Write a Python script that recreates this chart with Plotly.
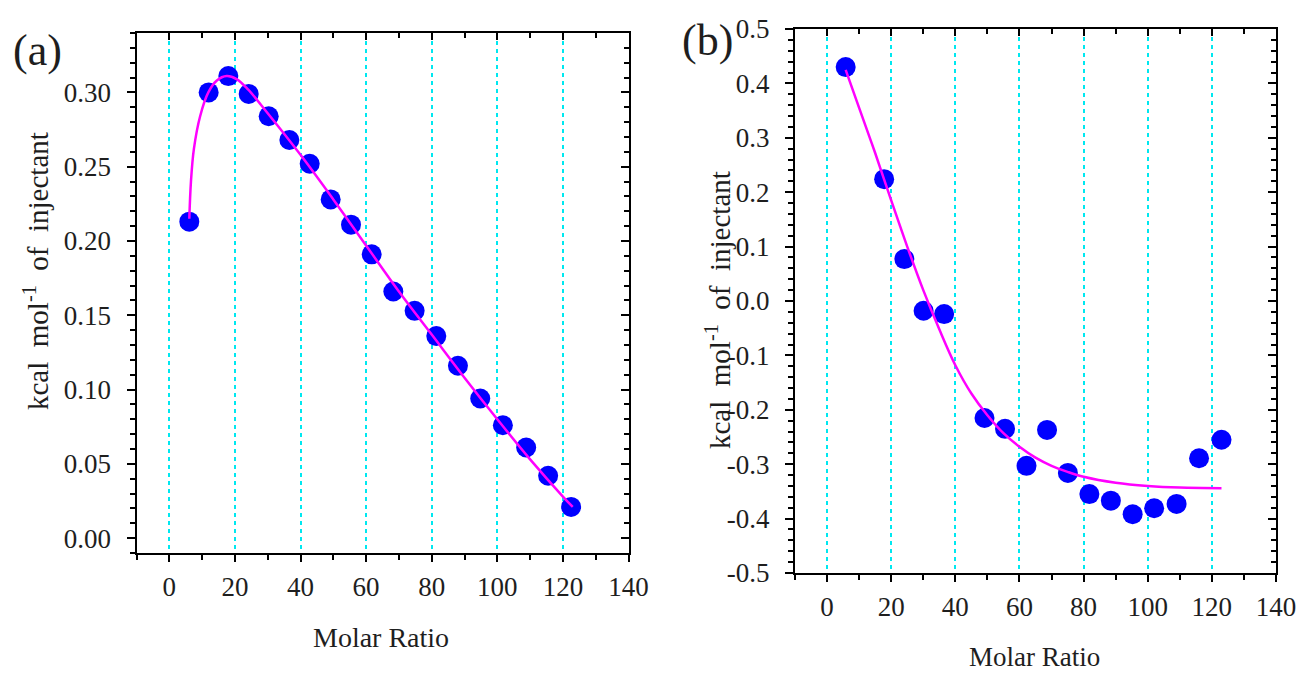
import plotly.graph_objects as go

# ---------------- data ----------------
# panel (a)
xa = [6.1, 12.0, 18.0, 24.2, 30.3, 36.6, 42.8, 49.2, 55.4, 61.7, 68.3, 74.8,
      81.4, 88.0, 94.8, 101.7, 108.8, 115.5, 122.5]
ya = [0.213, 0.300, 0.311, 0.299, 0.284, 0.268, 0.252, 0.228, 0.211, 0.191,
      0.166, 0.153, 0.136, 0.116, 0.094, 0.076, 0.061, 0.042, 0.021]
fit_xa = [6.1, 6.6, 7.5, 9.4, 11.9, 14.5, 17.5, 20.5, 24, 30, 40, 50, 60, 70,
          80, 90, 100, 110, 120, 123]
fit_ya = [0.215, 0.240, 0.262, 0.284, 0.300, 0.308, 0.311, 0.309, 0.302, 0.286,
          0.258, 0.228, 0.197, 0.166, 0.137, 0.108, 0.080, 0.053, 0.028, 0.021]

# panel (b)
xb = [5.8, 17.8, 24.1, 30.1, 36.5, 49.1, 55.5, 62.2, 68.6, 75.1, 81.8, 88.5,
      95.3, 102.0, 109.0, 116.0, 123.0]
yb = [0.430, 0.224, 0.077, -0.018, -0.024, -0.215, -0.235, -0.303, -0.237,
      -0.316, -0.355, -0.367, -0.392, -0.381, -0.373, -0.289, -0.255]
fit_xb = [5.8, 10, 15, 20, 25, 30, 35, 40, 45, 50, 55, 60, 65, 70, 75, 80, 90,
          100, 110, 123]
fit_yb = [0.425, 0.355, 0.272, 0.185, 0.100, 0.020, -0.052, -0.118, -0.170,
          -0.210, -0.243, -0.268, -0.288, -0.303, -0.314, -0.323, -0.334,
          -0.340, -0.343, -0.344]

# tick labels
x_ticks = [0, 20, 40, 60, 80, 100, 120, 140]
x_ticktext = ["0", "20", "40", "60", "80", "100", "120", "140"]
ya_ticks = [0.00, 0.05, 0.10, 0.15, 0.20, 0.25, 0.30]
ya_ticktext = ["0.00", "0.05", "0.10", "0.15", "0.20", "0.25", "0.30"]
yb_ticks = [0.5, 0.4, 0.3, 0.2, 0.1, 0.0, -0.1, -0.2, -0.3, -0.4, -0.5]
yb_ticktext = ["0.5", "0.4", "0.3", "0.2", "0.1", "0.0", "-0.1", "-0.2",
               "-0.3", "-0.4", "-0.5"]

panel_labels = ["(a)", "(b)"]
x_title = "Molar Ratio"
y_title = "kcal  mol<sup>-1</sup>  of  injectant"

# ---------------- styling ----------------
W, H = 1299, 673
FONT = "Liberation Serif, Times New Roman, serif"
BLUE = "#0000FF"
MAGENTA = "#FF00FF"
CYAN = "#00E8F0"
TXT = "#1e1e1e"


def px_x(p):
    return p / W


def px_y(p):
    return 1 - p / H


fig = go.Figure()

# panel a
fig.add_trace(go.Scatter(x=xa, y=ya, mode="markers", xaxis="x", yaxis="y",
                         marker=dict(color=BLUE, size=20, symbol="circle"),
                         showlegend=False))
fig.add_trace(go.Scatter(x=fit_xa, y=fit_ya, mode="lines", xaxis="x", yaxis="y",
                         line=dict(color=MAGENTA, width=2.5, shape="spline"),
                         showlegend=False))
# panel b
fig.add_trace(go.Scatter(x=xb, y=yb, mode="markers", xaxis="x2", yaxis="y2",
                         marker=dict(color=BLUE, size=20, symbol="circle"),
                         showlegend=False))
fig.add_trace(go.Scatter(x=fit_xb, y=fit_yb, mode="lines", xaxis="x2", yaxis="y2",
                         line=dict(color=MAGENTA, width=2.5, shape="spline"),
                         showlegend=False))
# invisible traces for the mirrored (inward-tick) axes
fig.add_trace(go.Scatter(x=[None], y=[None], xaxis="x3", yaxis="y3",
                         showlegend=False, hoverinfo="skip"))
fig.add_trace(go.Scatter(x=[None], y=[None], xaxis="x4", yaxis="y4",
                         showlegend=False, hoverinfo="skip"))

dom_xa = [px_x(136.5), px_x(628.5)]
dom_ya = [px_y(553), px_y(33)]
dom_xb = [px_x(795), px_x(1276)]
dom_yb = [px_y(573), px_y(29)]

tickfont = dict(family=FONT, size=27, color=TXT)

common_x = dict(range=[-10, 140], tickmode="array", tickvals=x_ticks,
                ticktext=x_ticktext, showline=True, linecolor="black",
                linewidth=2, mirror=True, ticks="outside", ticklen=7,
                tickwidth=2, tickcolor="black", tickfont=tickfont,
                showgrid=True, gridcolor=CYAN, griddash="4px,4px", gridwidth=2,
                zeroline=False, ticklabelstandoff=2, automargin=False,
                minor=dict(tickmode="linear", tick0=0, dtick=10, ticks="outside",
                           ticklen=5, tickwidth=2, tickcolor="black",
                           showgrid=False))

common_y = dict(showline=True, linecolor="black", linewidth=2, mirror=True,
                ticks="outside", ticklen=8, tickwidth=2, tickcolor="black",
                tickfont=tickfont, showgrid=False, zeroline=False,
                tickmode="array", ticklabelstandoff=10, automargin=False)

over_x = dict(range=[-10, 140], side="top", showline=False, showgrid=False,
              zeroline=False, showticklabels=False, ticks="inside", ticklen=7,
              tickwidth=2, tickcolor="black", tickmode="array", tickvals=x_ticks,
              automargin=False,
              minor=dict(tickmode="linear", tick0=0, dtick=10, ticks="inside",
                         ticklen=5, tickwidth=2, tickcolor="black",
                         showgrid=False))
over_y = dict(side="right", showline=False, showgrid=False, zeroline=False,
              showticklabels=False, ticks="inside", ticklen=8, tickwidth=2,
              tickcolor="black", tickmode="array", automargin=False)

fig.update_layout(
    width=W, height=H,
    margin=dict(l=0, r=0, t=0, b=0, pad=0),
    paper_bgcolor="white", plot_bgcolor="white",
    showlegend=False,
    xaxis=dict(domain=dom_xa, anchor="y", **common_x),
    yaxis=dict(domain=dom_ya, anchor="x", range=[-0.01, 0.34],
               tickvals=ya_ticks, ticktext=ya_ticktext,
               minor=dict(tickmode="linear", tick0=0, dtick=0.01,
                          ticks="outside", ticklen=5, tickwidth=2,
                          tickcolor="black", showgrid=False),
               **common_y),
    xaxis2=dict(domain=dom_xb, anchor="y2", **common_x),
    yaxis2=dict(domain=dom_yb, anchor="x2", range=[-0.5, 0.5],
                tickvals=yb_ticks, ticktext=yb_ticktext,
                minor=dict(tickmode="linear", tick0=0, dtick=0.02,
                           ticks="outside", ticklen=5, tickwidth=2,
                           tickcolor="black", showgrid=False),
                **common_y),
    xaxis3=dict(domain=dom_xa, anchor="y3", overlaying="x", **over_x),
    yaxis3=dict(domain=dom_ya, anchor="x3", overlaying="y", range=[-0.01, 0.34],
                tickvals=ya_ticks,
                minor=dict(tickmode="linear", tick0=0, dtick=0.01,
                           ticks="inside", ticklen=5, tickwidth=2,
                           tickcolor="black", showgrid=False),
                **over_y),
    xaxis4=dict(domain=dom_xb, anchor="y4", overlaying="x2", **over_x),
    yaxis4=dict(domain=dom_yb, anchor="x4", overlaying="y2", range=[-0.5, 0.5],
                tickvals=yb_ticks,
                minor=dict(tickmode="linear", tick0=0, dtick=0.02,
                           ticks="inside", ticklen=5, tickwidth=2,
                           tickcolor="black", showgrid=False),
                **over_y),
)

ann_font = dict(family=FONT, color=TXT)
ann_common = dict(xref="paper", yref="paper", showarrow=False,
                  xanchor="center", yanchor="middle")
fig.add_annotation(text=panel_labels[0], x=px_x(37.5), y=px_y(51),
                   font=dict(size=44, **ann_font), **ann_common)
fig.add_annotation(text=panel_labels[1], x=px_x(707), y=px_y(40),
                   font=dict(size=44, **ann_font), **ann_common)
fig.add_annotation(text=x_title, x=px_x(381), y=px_y(637),
                   font=dict(size=28, **ann_font), **ann_common)
fig.add_annotation(text=x_title, x=px_x(1034), y=px_y(657),
                   font=dict(size=27, **ann_font), **ann_common)
fig.add_annotation(text=y_title, x=px_x(36), y=px_y(271), textangle=-90,
                   font=dict(size=29, **ann_font), **ann_common)
fig.add_annotation(text=y_title, x=px_x(718), y=px_y(310), textangle=-90,
                   font=dict(size=29, **ann_font), **ann_common)

fig.write_html(
    "out.html",
    config={"displayModeBar": False},
    post_script="document.body.style.margin='0px';"
                "document.body.style.overflow='hidden';",
)
